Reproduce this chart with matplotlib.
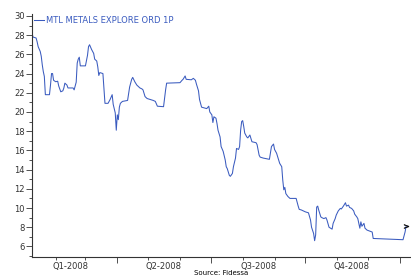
import pandas as pd
import numpy as np
import matplotlib
matplotlib.use("Agg")
import matplotlib.pyplot as plt
import matplotlib.dates as mdates
from matplotlib.ticker import MultipleLocator, NullFormatter

# price series (pence)
dates = ["2008-01-09", "2008-01-10", "2008-01-13", "2008-01-14", "2008-01-15", "2008-01-17",
         "2008-01-18", "2008-01-19", "2008-01-20", "2008-01-21", "2008-01-22", "2008-01-26",
         "2008-01-27", "2008-01-28", "2008-01-29", "2008-01-30", "2008-02-01", "2008-02-03",
         "2008-02-04", "2008-02-06", "2008-02-08", "2008-02-09", "2008-02-10", "2008-02-12",
         "2008-02-13", "2008-02-18", "2008-02-19", "2008-02-21", "2008-02-22", "2008-02-23",
         "2008-02-24", "2008-02-25", "2008-03-01", "2008-03-03", "2008-03-04", "2008-03-05",
         "2008-03-07", "2008-03-09", "2008-03-10", "2008-03-12", "2008-03-13", "2008-03-14",
         "2008-03-15", "2008-03-18", "2008-03-20", "2008-03-23", "2008-03-25", "2008-03-27",
         "2008-03-28", "2008-03-30", "2008-03-31", "2008-04-01", "2008-04-02", "2008-04-03",
         "2008-04-04", "2008-04-06", "2008-04-11", "2008-04-13", "2008-04-15", "2008-04-16",
         "2008-04-18", "2008-04-20", "2008-04-21", "2008-04-23", "2008-04-25", "2008-04-26",
         "2008-04-28", "2008-04-30", "2008-05-06", "2008-05-08", "2008-05-10", "2008-05-16",
         "2008-05-18", "2008-05-19", "2008-06-01", "2008-06-03", "2008-06-04", "2008-06-06",
         "2008-06-07", "2008-06-12", "2008-06-14", "2008-06-16", "2008-06-17", "2008-06-19",
         "2008-06-20", "2008-06-22", "2008-06-27", "2008-06-29", "2008-06-30", "2008-07-02",
         "2008-07-03", "2008-07-04", "2008-07-06", "2008-07-07", "2008-07-08", "2008-07-10",
         "2008-07-11", "2008-07-13", "2008-07-15", "2008-07-16", "2008-07-17", "2008-07-19",
         "2008-07-20", "2008-07-22", "2008-07-23", "2008-07-25", "2008-07-26", "2008-07-28",
         "2008-07-29", "2008-07-30", "2008-07-31", "2008-08-01", "2008-08-02", "2008-08-03",
         "2008-08-05", "2008-08-06", "2008-08-08", "2008-08-10", "2008-08-14", "2008-08-15",
         "2008-08-17", "2008-08-18", "2008-08-21", "2008-08-27", "2008-08-29", "2008-08-31",
         "2008-09-01", "2008-09-03", "2008-09-05", "2008-09-06", "2008-09-08", "2008-09-09",
         "2008-09-10", "2008-09-11", "2008-09-12", "2008-09-14", "2008-09-16", "2008-09-22",
         "2008-09-24", "2008-09-25", "2008-09-27", "2008-10-01", "2008-10-04", "2008-10-06",
         "2008-10-07", "2008-10-09", "2008-10-10", "2008-10-11", "2008-10-12", "2008-10-13",
         "2008-10-14", "2008-10-16", "2008-10-17", "2008-10-19", "2008-10-21", "2008-10-22",
         "2008-10-24", "2008-10-27", "2008-10-28", "2008-10-30", "2008-10-31", "2008-11-02",
         "2008-11-04", "2008-11-05", "2008-11-07", "2008-11-09", "2008-11-10", "2008-11-12",
         "2008-11-13", "2008-11-15", "2008-11-17", "2008-11-18", "2008-11-20", "2008-11-21",
         "2008-11-23", "2008-11-24", "2008-11-25", "2008-11-27", "2008-11-28", "2008-11-30",
         "2008-12-05", "2008-12-06", "2009-01-04", "2009-01-06", "2009-01-07"]
prices = [28.2, 27.8, 27.7, 27.3, 26.8, 26.3,
          25.8, 24.9, 24.2, 23.7, 21.8, 21.8,
          22.8, 24.0, 24.0, 23.3, 23.15, 23.2,
          22.7, 22.1, 22.2, 22.5, 23.0, 22.8,
          22.5, 22.5, 22.3, 23.1, 25.1, 25.5,
          25.7, 24.8, 24.8, 25.9, 26.8, 27.0,
          26.5, 26.1, 25.5, 25.3, 24.7, 23.8,
          24.1, 24.0, 20.9, 20.9, 21.3, 21.8,
          20.8, 19.9, 18.1, 19.7, 19.2, 20.5,
          20.9, 21.1, 21.2, 22.6, 23.4, 23.6,
          23.15, 22.8, 22.7, 22.5, 22.4, 22.3,
          21.6, 21.4, 21.2, 21.1, 20.6, 20.55,
          22.3, 23.0, 23.05, 23.3, 23.4, 23.75,
          23.4, 23.35, 23.5, 23.3, 22.9, 22.2,
          21.3, 20.5, 20.35, 20.6, 20.0, 19.7,
          18.9, 19.5, 19.35, 18.8, 18.1, 17.4,
          16.4, 15.9, 15.0, 14.3, 14.1, 13.4,
          13.3, 13.6, 14.3, 15.2, 16.2, 16.1,
          16.4, 18.1, 19.0, 19.1, 18.5, 17.8,
          17.4, 17.3, 17.6, 16.9, 16.8, 16.6,
          15.5, 15.3, 15.2, 15.07, 16.4, 16.66,
          16.1, 15.7, 15.0, 14.65, 14.3, 12.9,
          11.9, 12.15, 11.5, 11.2, 11.0, 11.0,
          10.2, 9.86, 9.8, 9.6, 9.5, 8.75,
          8.0, 7.35, 6.6, 7.2, 10.1, 10.2,
          9.78, 9.08, 9.0, 8.9, 9.0, 8.75,
          8.0, 7.8, 8.4, 8.9, 9.26, 9.7,
          9.96, 9.9, 10.2, 10.55, 10.2, 10.3,
          10.06, 9.96, 9.7, 9.36, 9.08, 8.9,
          7.9, 8.56, 8.1, 8.4, 7.9, 7.7,
          7.5, 6.83, 6.7, 7.5, 8.1]
series_name = "MTL METALS EXPLORE ORD 1P"
quarter_labels = ["Q1-2008", "Q2-2008", "Q3-2008", "Q4-2008"]
quarter_mid = ["2008-02-15", "2008-05-16", "2008-08-16", "2008-11-15"]
source = "Source: Fidessa"

x = pd.to_datetime(dates)
line_col = "#3a5bbf"
txt_col = "#333333"

fig = plt.figure(figsize=(4.11, 2.77), dpi=100)
ax = fig.add_axes([32 / 411, 20 / 277, 378 / 411, 243 / 277])

ax.plot(x, prices, color=line_col, lw=0.75, label=series_name)
# end-of-series marker
ax.plot(x[-1:], prices[-1:], marker=r"$>$", color="black", ms=3.5, mew=0.3, ls="none")

jan1 = mdates.date2num(pd.Timestamp("2008-01-01"))
ax.set_xlim(jan1 + 8.0, jan1 + 375.8)
ax.set_ylim(4.9, 30.2)

ax.yaxis.set_major_locator(MultipleLocator(2))
ax.yaxis.set_minor_locator(MultipleLocator(1))
ax.xaxis.set_major_locator(mdates.MonthLocator(bymonth=[1, 4, 7, 10]))
ax.xaxis.set_minor_locator(mdates.MonthLocator())
ax.xaxis.set_major_formatter(NullFormatter())
ax.tick_params(axis="y", which="major", length=4, width=0.6, labelsize=6,
               colors=txt_col, pad=1)
ax.tick_params(axis="y", which="minor", length=2, width=0.6, colors=txt_col)
ax.tick_params(axis="x", which="major", length=4, width=0.6, colors=txt_col)
ax.tick_params(axis="x", which="minor", length=2, width=0.6, colors=txt_col)

for lab, d in zip(quarter_labels, quarter_mid):
    ax.text(pd.Timestamp(d), -0.04, lab, transform=ax.get_xaxis_transform(),
            ha="center", va="center", fontsize=6, color=txt_col)

for s in ["top", "right"]:
    ax.spines[s].set_visible(False)
for s in ["left", "bottom"]:
    ax.spines[s].set_color(txt_col)
    ax.spines[s].set_linewidth(0.8)

leg = ax.legend(loc="upper left", bbox_to_anchor=(0.003, 0.995), frameon=False,
                fontsize=6, handlelength=1.2, handletextpad=0.2, borderaxespad=0,
                borderpad=0.1)
for t in leg.get_texts():
    t.set_color(line_col)

fig.text(221 / 411, 0.005, source, ha="center", va="bottom", fontsize=5, color="black")

fig.savefig("out.png", dpi=100)
